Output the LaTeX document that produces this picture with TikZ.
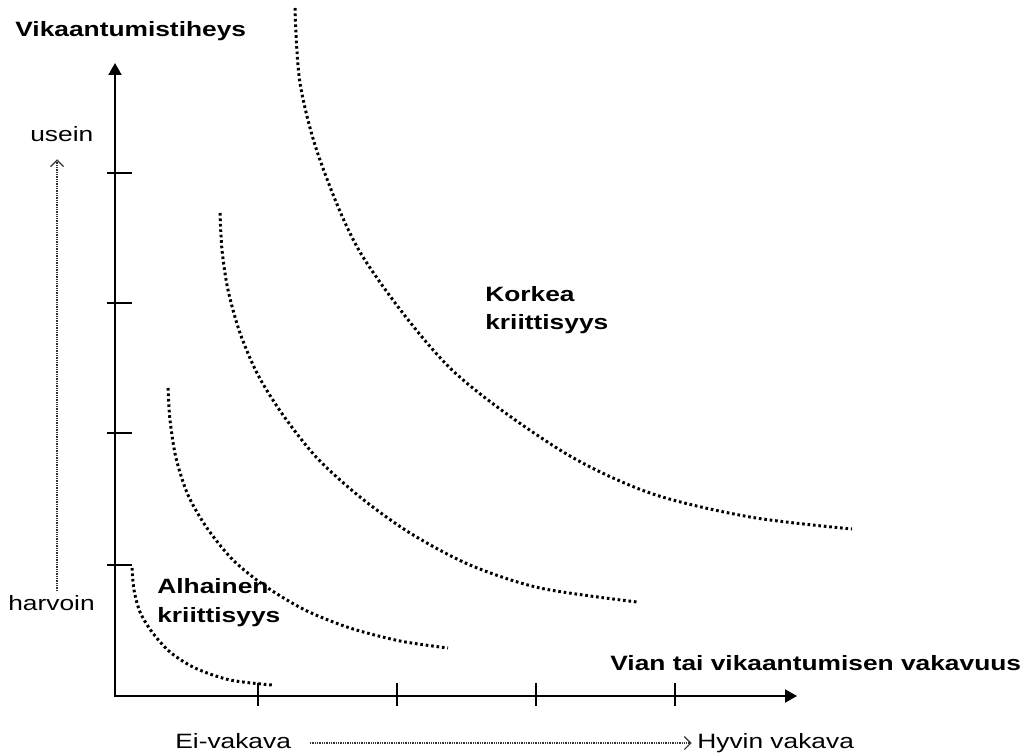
\documentclass[tikz,border=0pt]{standalone}
\usepackage{fontspec}
\setmainfont{Liberation Sans}[FakeStretch=1.27]
\usetikzlibrary{arrows.meta}

\begin{document}
\begin{tikzpicture}[x=0.02cm, y=-0.02cm,
  lab/.style={font=\fontsize{11.8}{16.5}\selectfont, inner sep=0pt, anchor=base west},
  head/.style={lab, font=\fontsize{11.8}{16.5}\selectfont\bfseries, align=left},
  axis/.style={line width=1.1pt, -{Triangle[length=2.4mm, width=2.6mm]}},
  tickmark/.style={line width=0.9pt},
  curve/.style={line width=1.7pt, dash pattern=on 1.5pt off 1.6pt},
  dotarr/.style={line width=0.8pt, black!80, dash pattern=on 0.5pt off 0.5pt,
                 -{Straight Barb[length=1.3mm, width=2.6mm, line width=0.7pt]}}
]
\useasboundingbox (0,0) rectangle (1027,756);
\coordinate (o) at (115,696);
\coordinate (ytop) at (115,63);
\coordinate (xend) at (797,696);
\draw[axis] (o) -- (ytop);
\draw[axis] ([xshift=-0.5pt]o) -- (xend);
\foreach \y in {173,303,433,565} \draw[tickmark] (107,\y) -- (132,\y);
\foreach \x in {258,397,536,675} \draw[tickmark] (\x,683) -- (\x,706);

\draw[curve] plot[smooth] coordinates {(132,568) (134,590) (140,612) (152,632) (170,652) (195,668) (230,680) (272,685)};
\draw[curve] plot[smooth] coordinates {(168,388) (170,420) (176,458) (188,495) (207,528) (233,560) (265,586) (305,610) (350,628) (400,641) (448,648)};
\draw[curve] plot[smooth] coordinates {(220,213) (222,250) (228,290) (240,333) (258,375) (283,415) (317,458) (360,497) (410,533) (470,565) (540,588) (637,602)};
\draw[curve] plot[smooth] coordinates {(295,8) (300,83) (320,160) (363,257) (450,368) (560,450) (650,493) (750,517) (852,529)};

\node[head] (freq) at (15,37) {Vikaantumistiheys};
\node[lab] (usein) at (30,142) {usein};
\node[lab] (harvoin) at (8,610) {harvoin};
\node[head] (low) at (157,622) {Alhainen\\kriittisyys};
\node[head] (high) at (485,330) {Korkea\\kriittisyys};
\node[head] (sev) at (610,670) {Vian tai vikaantumisen vakavuus};
\node[lab] (eivakava) at (175,748) {Ei-vakava};
\node[lab] (hyvin) at (697,748) {Hyvin vakava};

\draw[dotarr, shorten <=2pt, shorten >=9.5pt] ([xshift=1.1mm]harvoin.north) -- ([xshift=1.1mm]harvoin.north |- usein.south);
\draw[dotarr, shorten <=10.5pt, shorten >=3pt] ([yshift=1mm]eivakava.base east) -- ([yshift=1mm]hyvin.base west);
\end{tikzpicture}
\end{document}
